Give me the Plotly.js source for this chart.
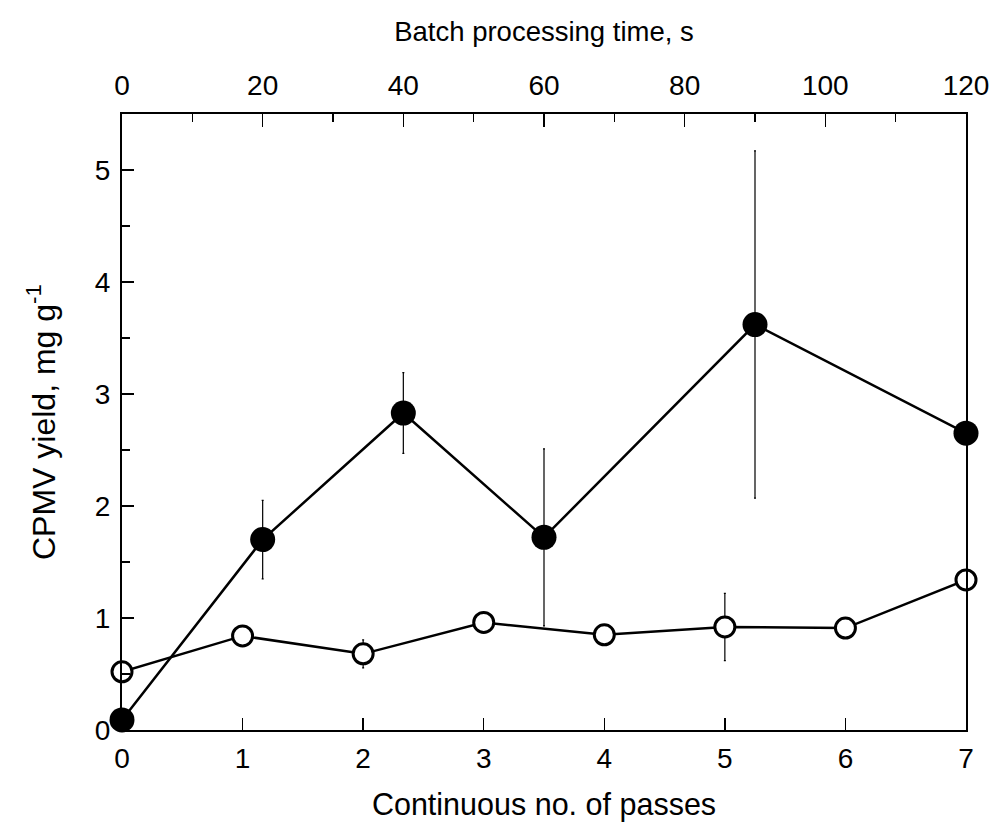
<!DOCTYPE html>
<html>
<head>
<meta charset="utf-8">
<script src="https://cdn.plot.ly/plotly-3.0.1.min.js"></script>
<style>html,body{margin:0;padding:0;background:#fff;}#chart{width:991px;height:825px;}</style>
</head>
<body>
<div id="chart"></div>
<script>
// Continuous processing (open circles), bottom axis: number of passes
const passes = [0, 1, 2, 3, 4, 5, 6, 7];
const contYield = [0.52, 0.84, 0.68, 0.96, 0.85, 0.92, 0.91, 1.34];
const contErr = [0.05, 0, 0.125, 0, 0, 0.3, 0, 0];

// Batch processing (filled circles), top axis: time, s
const batchTime = [0, 20, 40, 60, 90, 120];
const batchYield = [0.09, 1.70, 2.83, 1.72, 3.62, 2.65];
const batchErr = [0, 0.35, 0.36, 0.79, 1.55, 0];

const bottomTicks = [0, 1, 2, 3, 4, 5, 6, 7];
const topTicks = [0, 20, 40, 60, 80, 100, 120];
const yTicks = [0, 1, 2, 3, 4, 5];

const FONT = '"Liberation Sans", Arial, sans-serif';

const traces = [
  {
    x: passes, y: contYield, xaxis: 'x', yaxis: 'y',
    type: 'scatter', mode: 'lines+markers', cliponaxis: false,
    line: {color: '#000', width: 2.5},
    marker: {symbol: 'circle', size: 20, color: '#fff', line: {color: '#000', width: 3}},
    error_y: {type: 'data', array: contErr, visible: true, color: '#000', thickness: 1.2, width: 1},
    showlegend: false
  },
  {
    x: batchTime, y: batchYield, xaxis: 'x2', yaxis: 'y',
    type: 'scatter', mode: 'lines+markers', cliponaxis: false,
    line: {color: '#000', width: 2.5},
    marker: {symbol: 'circle', size: 25, color: '#000', line: {color: '#000', width: 0}},
    error_y: {type: 'data', array: batchErr, visible: true, color: '#000', thickness: 1.2, width: 1},
    showlegend: false
  }
];

const layout = {
  width: 991, height: 825,
  margin: {l: 122, r: 25, t: 114, b: 95},
  paper_bgcolor: '#fff', plot_bgcolor: '#fff',
  font: {family: FONT, size: 28, color: '#000'},
  xaxis: {
    range: [0, 7], tickvals: bottomTicks, ticktext: bottomTicks.map(String),
    ticks: 'inside', ticklen: 12, tickwidth: 1.5, tickcolor: '#000',
    showline: true, linecolor: '#000', linewidth: 2,
    showgrid: false, zeroline: false,
    tickfont: {family: FONT, size: 28},
    ticklabelstandoff: 2,
    title: {text: 'Continuous no. of passes', font: {family: FONT, size: 30.5}, standoff: 21}
  },
  xaxis2: {
    range: [0, 120], overlaying: 'x', side: 'top', anchor: 'y',
    tickvals: topTicks, ticktext: topTicks.map(String),
    ticks: 'inside', ticklen: 13, tickwidth: 1.5, tickcolor: '#000',
    minor: {dtick: 10, tick0: 0, ticks: 'inside', ticklen: 8, tickwidth: 1.5, tickcolor: '#000'},
    showline: true, linecolor: '#000', linewidth: 2,
    showgrid: false, zeroline: false,
    tickfont: {family: FONT, size: 28},
    ticklabelstandoff: 6,
    title: {text: 'Batch processing time, s', font: {family: FONT, size: 27.5}, standoff: 20}
  },
  yaxis: {
    range: [0, 5.5], tickvals: yTicks, ticktext: yTicks.map(String),
    ticks: 'inside', ticklen: 12, tickwidth: 1.5, tickcolor: '#000',
    minor: {dtick: 0.5, tick0: 0, ticks: 'inside', ticklen: 8, tickwidth: 1.5, tickcolor: '#000'},
    showline: true, mirror: true, linecolor: '#000', linewidth: 2,
    showgrid: false, zeroline: false,
    tickfont: {family: FONT, size: 28},
    ticklabelstandoff: 4,
    title: {text: 'CPMV yield, mg g<sup>-1</sup>', font: {family: FONT, size: 32}, standoff: 30}
  }
};

Plotly.newPlot('chart', traces, layout, {staticPlot: true, displayModeBar: false});
</script>
</body>
</html>
